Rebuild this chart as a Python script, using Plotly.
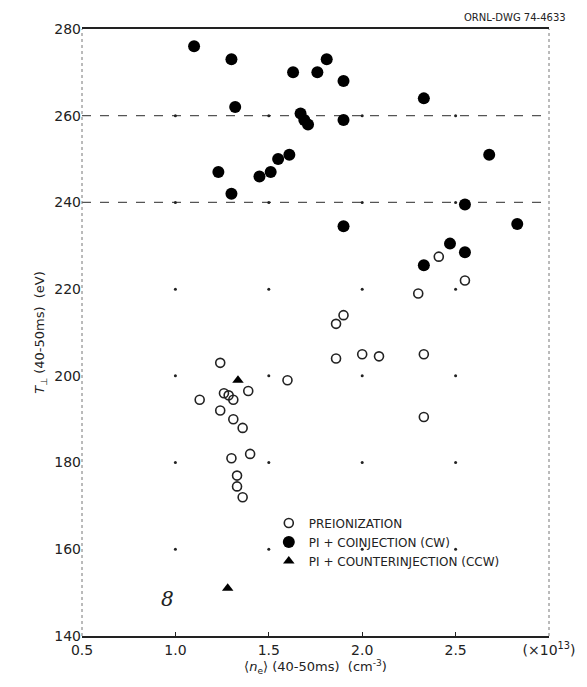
import plotly.graph_objects as go

# ---- data ----
pre_x = [1.13, 1.24, 1.26, 1.285, 1.31, 1.24, 1.31, 1.36, 1.39, 1.40, 1.30, 1.33, 1.33, 1.36,
         1.60, 1.86, 1.90, 1.86, 2.00, 2.09, 2.30, 2.41, 2.55, 2.33, 2.33]
pre_y = [194.5, 203, 196, 195.5, 194.5, 192, 190, 188, 196.5, 182, 181, 177, 174.5, 172,
         199, 212, 214, 204, 205, 204.5, 219, 227.5, 222, 205, 190.5]

co_x = [1.10, 1.30, 1.32, 1.63, 1.76, 1.81, 1.90, 1.67, 1.69, 1.71, 1.90, 2.33,
        1.23, 1.30, 1.45, 1.51, 1.55, 1.61, 1.90, 2.68, 2.55, 2.83, 2.47, 2.55, 2.33]
co_y = [276, 273, 262, 270, 270, 273, 268, 260.5, 259, 258, 259, 264,
        247, 242, 246, 247, 250, 251, 234.5, 251, 239.5, 235, 230.5, 228.5, 225.5]

ctr_x = [1.335, 1.28]
ctr_y = [199, 151]

x_ticks = [0.5, 1.0, 1.5, 2.0, 2.5, 3.0]
x_labels = ["0.5", "1.0", "1.5", "2.0", "2.5", "(×10<sup>13</sup>)"]
y_ticks = [140, 160, 180, 200, 220, 240, 260, 280]
dashed_grid = [240, 260]

series_names = ["PREIONIZATION", "PI + COINJECTION (CW)", "PI + COUNTERINJECTION (CCW)"]

FONT = "DejaVu Sans"
INK = "#222222"

fig = go.Figure()

# grid intersection dots
gx, gy = [], []
for xv in x_ticks[1:-1]:
    for yv in y_ticks[1:-1]:
        gx.append(xv)
        gy.append(yv)
fig.add_trace(go.Scatter(x=gx, y=gy, mode="markers", showlegend=False, hoverinfo="skip",
                         marker=dict(size=3, color=INK)))

fig.add_trace(go.Scatter(x=pre_x, y=pre_y, mode="markers", name=series_names[0],
                         marker=dict(symbol="circle-open", size=9, color=INK, line=dict(width=1.6))))
fig.add_trace(go.Scatter(x=co_x, y=co_y, mode="markers", name=series_names[1],
                         marker=dict(symbol="circle", size=12, color="black")))
fig.add_trace(go.Scatter(x=ctr_x, y=ctr_y, mode="markers", name=series_names[2],
                         marker=dict(symbol="triangle-up", size=10, color="black")))

shapes = []
for yv in dashed_grid:
    shapes.append(dict(type="line", xref="paper", x0=0, x1=1, yref="y", y0=yv, y1=yv,
                       line=dict(color="#555555", width=1.2, dash="dash"), layer="below"))
# dotted left / right borders
for xp in (0, 1):
    shapes.append(dict(type="line", xref="paper", x0=xp, x1=xp, yref="paper", y0=0, y1=1,
                       line=dict(color="#777777", width=1, dash="dot"), layer="below"))

fig.update_layout(
    width=587, height=687,
    margin=dict(l=82, r=29, t=29, b=51),
    paper_bgcolor="white", plot_bgcolor="white",
    font=dict(family=FONT, color=INK, size=13),
    shapes=shapes,
    showlegend=True,
    legend=dict(x=0.40, y=0.21, xanchor="left", yanchor="top", bgcolor="rgba(0,0,0,0)",
                font=dict(size=12, family=FONT, color=INK), tracegroupgap=2,
                itemwidth=30),
    annotations=[
        dict(text="ORNL-DWG 74-4633", xref="paper", yref="paper", x=1.04, y=1.0,
             xanchor="right", yanchor="bottom", yshift=4, showarrow=False,
             font=dict(size=10, family=FONT, color=INK)),
        dict(text="<i>8</i>", xref="x", yref="y", x=0.96, y=148.5, showarrow=False,
             font=dict(size=20, family="DejaVu Serif", color=INK)),
    ],
)

fig.update_xaxes(
    range=[0.5, 3.0], tickvals=x_ticks, ticktext=x_labels,
    showgrid=False, zeroline=False,
    showline=True, mirror=True, linecolor=INK, linewidth=2,
    ticks="inside", ticklen=4, tickcolor=INK,
    tickfont=dict(size=14, family=FONT),
    title=dict(text="⟨<i>n</i><sub>e</sub>⟩ (40-50ms)  (cm<sup>-3</sup>)", standoff=4,
               font=dict(size=13, family=FONT)),
)
fig.update_yaxes(
    range=[140, 280], tickvals=y_ticks,
    showgrid=False, zeroline=False, showline=False,
    ticks="", tickfont=dict(size=14, family=FONT),
    title=dict(text="<i>T</i><sub>⊥</sub> (40-50ms)  (eV)", standoff=6,
               font=dict(size=13, family=FONT)),
)

fig.write_html("out.html")
